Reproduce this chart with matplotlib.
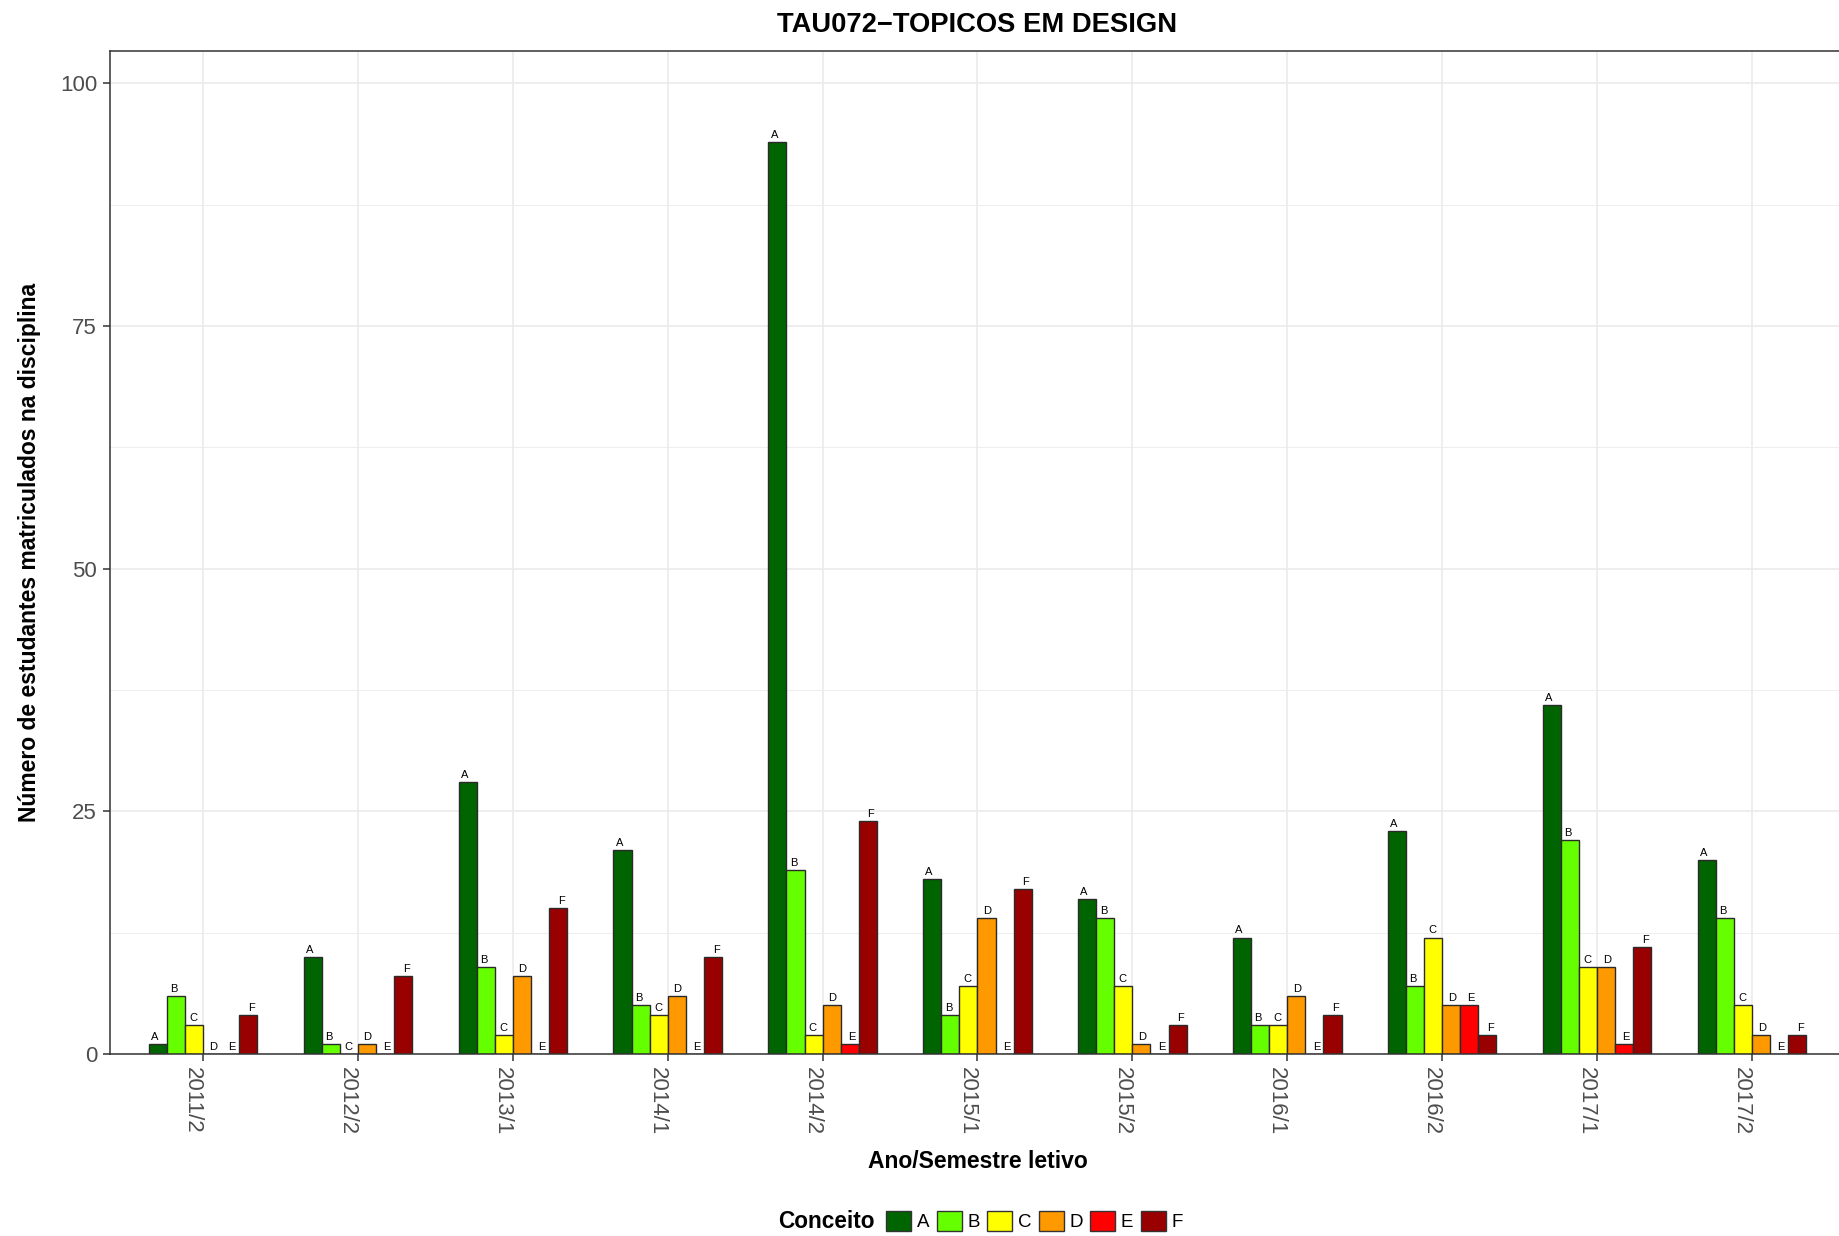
import numpy as np
import matplotlib
matplotlib.use("Agg")
import matplotlib.pyplot as plt
from matplotlib.patches import Patch

# dados
semestres = ["2011/2", "2012/2", "2013/1", "2014/1", "2014/2", "2015/1",
             "2015/2", "2016/1", "2016/2", "2017/1", "2017/2"]
conceitos = ["A", "B", "C", "D", "E", "F"]
cores = ["#006400", "#66FF00", "#FFFF00", "#FF9900", "#FF0000", "#990000"]

nota_A = [1, 10, 28, 21, 94, 18, 16, 12, 23, 36, 20]
nota_B = [6, 1, 9, 5, 19, 4, 14, 3, 7, 22, 14]
nota_C = [3, 0, 2, 4, 2, 7, 7, 3, 12, 9, 5]
nota_D = [0, 1, 8, 6, 5, 14, 1, 6, 5, 9, 2]
nota_E = [0, 0, 0, 0, 1, 0, 0, 0, 5, 1, 0]
nota_F = [4, 8, 15, 10, 24, 17, 3, 4, 2, 11, 2]
notas = [nota_A, nota_B, nota_C, nota_D, nota_E, nota_F]

plt.rcParams['font.family'] = ['Liberation Sans', 'DejaVu Sans']

W, H = 1839, 1236
fig = plt.figure(figsize=(W / 100, H / 100), dpi=100)
# painel: a borda direita fica um pouco fora da imagem, como no original
x0, x1, y0, y1 = 110, 1845, 50.5, 1054
ax = fig.add_axes([x0 / W, 1 - y1 / H, (x1 - x0) / W, (y1 - y0) / H])

x = np.arange(len(semestres))
larg = 0.7 / 6
for i, (c, vals, cor) in enumerate(zip(conceitos, notas, cores)):
  pos = x + (i - 2.5) * larg
  ax.bar(pos, vals, width=larg, color=cor, edgecolor='#2A2A2A', linewidth=1.0, zorder=2)
  pos_txt = x + (i - 2.5) * 0.75 / 6
  for px, v in zip(pos_txt, vals):
    ax.annotate(c, (px, v), xytext=(0, 1.5), textcoords='offset points',
                ha='center', va='bottom', fontsize=8, color='black', zorder=3)

ax.set_xlim(-0.6, len(semestres) - 0.4)
ax.set_ylim(0, 103.4)
ax.set_yticks([0, 25, 50, 75, 100])
ax.set_yticks([12.5, 37.5, 62.5, 87.5], minor=True)
ax.set_xticks(x)
ax.set_xticklabels(semestres, rotation=270, ha='right', va='top')

ax.set_axisbelow(True)
ax.yaxis.grid(True, which='major', color='#EBEBEB', linewidth=1.2)
ax.yaxis.grid(True, which='minor', color='#EBEBEB', linewidth=0.6)
ax.xaxis.grid(True, which='major', color='#EBEBEB', linewidth=1.2)

for s in ax.spines.values():
  s.set_color('#333333')
  s.set_linewidth(1.1)
ax.tick_params(which='major', length=5, width=1.1, color='#333333',
               labelcolor='#4D4D4D', labelsize=16, pad=4.3)
ax.tick_params(which='minor', length=0)

cx = (x0 + x1) / 2 / W
fig.text(cx, 1 - 24.5 / H, "TAU072\u2212TOPICOS EM DESIGN", ha='center', va='center',
         fontsize=19.7, fontweight='bold')
fig.text(cx, 1 - 1161 / H, "Ano/Semestre letivo", ha='center', va='center',
         fontsize=16.5, fontweight='bold')
fig.text(30 / W, 1 - (y0 + y1) / 2 / H, "Número de estudantes matriculados na disciplina",
         ha='center', va='center', rotation=90, fontsize=16.5, fontweight='bold')

# legenda embaixo
fig.text(875 / W, 1 - 1221 / H, "Conceito", ha='right', va='center',
         fontsize=16.3, fontweight='bold')
handles = [Patch(facecolor=cor, edgecolor='#333333', linewidth=1.0) for cor in cores]
fig.legend(handles, conceitos, loc='center left', bbox_to_anchor=(886 / W, 1 - 1221 / H),
           ncol=6, frameon=False, fontsize=13.5, handlelength=1.33, handleheight=1.33,
           handletextpad=0.3, columnspacing=0.4, borderpad=0, borderaxespad=0)

fig.savefig("out.png", dpi=100)
